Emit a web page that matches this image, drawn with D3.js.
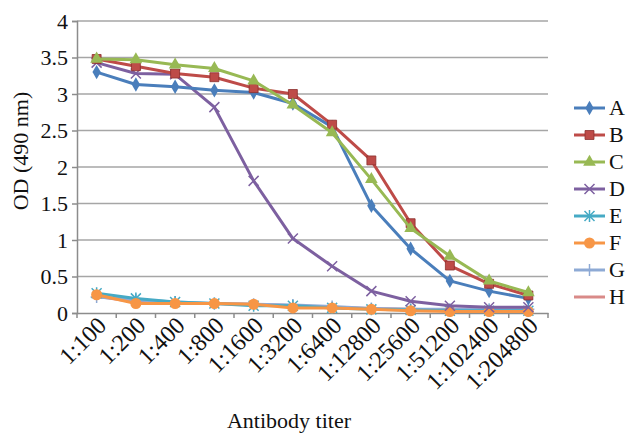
<!DOCTYPE html>
<html>
<head>
<meta charset="utf-8">
<script src="https://cdn.jsdelivr.net/npm/d3@7"></script>
<style>
  body { margin: 0; background: #fff; }
</style>
</head>
<body>
<div id="chart"></div>
<script>
var titers = ["1:100", "1:200", "1:400", "1:800", "1:1600", "1:3200", "1:6400",
    "1:12800", "1:25600", "1:51200", "1:102400", "1:204800"];

var seriesNames = ["A", "B", "C", "D", "E", "F", "G", "H"];

var valuesA = [3.30, 3.13, 3.10, 3.05, 3.02, 2.87, 2.55, 1.47, 0.88, 0.44, 0.30, 0.20];
var valuesB = [3.48, 3.38, 3.28, 3.23, 3.08, 3.00, 2.58, 2.09, 1.23, 0.65, 0.40, 0.24];
var valuesC = [3.48, 3.47, 3.40, 3.35, 3.18, 2.85, 2.47, 1.83, 1.16, 0.78, 0.44, 0.28];
var valuesD = [3.43, 3.28, 3.27, 2.82, 1.81, 1.02, 0.64, 0.30, 0.16, 0.10, 0.08, 0.08];
var valuesE = [0.27, 0.20, 0.15, 0.13, 0.10, 0.10, 0.07, 0.05, 0.04, 0.03, 0.03, 0.03];
var valuesF = [0.25, 0.13, 0.13, 0.13, 0.12, 0.07, 0.07, 0.05, 0.03, 0.02, 0.02, 0.02];
var valuesG = [0.22, 0.18, 0.15, 0.13, 0.12, 0.11, 0.09, 0.06, 0.05, 0.05, 0.05, 0.05];
var valuesH = [0.23, 0.15, 0.13, 0.13, 0.12, 0.10, 0.08, 0.06, 0.05, 0.04, 0.04, 0.04];

var yTicks = [0, 0.5, 1, 1.5, 2, 2.5, 3, 3.5, 4];

var allValues = [valuesA, valuesB, valuesC, valuesD, valuesE, valuesF, valuesG, valuesH];
var colors = ["#4a7ebb", "#be4b48", "#98b954", "#7d60a0", "#46aac5", "#f79646", "#8eaad5", "#d98a88"];
var markers = ["diamond", "square", "triangle", "x", "asterisk", "circle", "plus", "none"];

var serif = "'Liberation Serif', 'Times New Roman', serif";
var width = 626, height = 433;
var plot = { left: 77, right: 548, top: 21, bottom: 313 };

var svg = d3.select("#chart").append("svg")
    .attr("width", width)
    .attr("height", height);

var x = d3.scaleBand().domain(titers).range([plot.left, plot.right]);
var y = d3.scaleLinear().domain([0, 4]).range([plot.bottom, plot.top]);

// gridlines
svg.append("g")
    .selectAll("line")
    .data(yTicks.slice(1))
    .enter().append("line")
    .attr("x1", plot.left).attr("x2", plot.right)
    .attr("y1", function(d) { return y(d); })
    .attr("y2", function(d) { return y(d); })
    .attr("stroke", "#a6a6a6")
    .attr("stroke-width", 1.5);

// y axis
var yAxis = svg.append("g")
    .attr("transform", "translate(" + plot.left + ",0)")
    .attr("font-family", serif)
    .call(d3.axisLeft(y).tickValues(yTicks).tickSize(5).tickPadding(4).tickFormat(d3.format("")));
yAxis.attr("font-family", serif);
yAxis.select(".domain").attr("stroke", "#8c8c8c").attr("stroke-width", 1.5);
yAxis.selectAll(".tick line").attr("stroke", "#8c8c8c").attr("stroke-width", 1.5);
yAxis.selectAll("text")
    .style("font-size", "22px")
    .style("font-family", serif)
    .attr("fill", "#111");

// x axis
var xAxis = svg.append("g")
    .attr("transform", "translate(0," + plot.bottom + ")")
    .call(d3.axisBottom(x).tickSize(0).tickPadding(0));
xAxis.attr("font-family", serif);
xAxis.select(".domain").attr("stroke", "#8c8c8c").attr("stroke-width", 1.5);
xAxis.selectAll(".tick text")
    .style("font-size", "24px")
    .style("font-family", serif)
    .attr("fill", "#111")
    .attr("text-anchor", "end")
    .attr("dy", 0)
    .attr("transform", "translate(11,14) rotate(-45)");

// tick marks between categories
var boundaries = titers.map(function(t) { return x(t); }).concat([plot.right]);
svg.append("g")
    .selectAll("line")
    .data(boundaries)
    .enter().append("line")
    .attr("x1", function(d) { return d; }).attr("x2", function(d) { return d; })
    .attr("y1", plot.bottom).attr("y2", plot.bottom + 5)
    .attr("stroke", "#8c8c8c")
    .attr("stroke-width", 1.5);

var cx = function(i) { return x(titers[i]) + x.bandwidth() / 2; };

function drawMarker(g, type, color, px, py) {
    if (type === "diamond") {
        g.append("path").attr("d", d3.symbol(d3.symbolDiamond, 60)())
            .attr("transform", "translate(" + px + "," + py + ")").attr("fill", color);
    } else if (type === "square") {
        g.append("path").attr("d", d3.symbol(d3.symbolSquare, 80)())
            .attr("transform", "translate(" + px + "," + py + ")").attr("fill", color)
            .attr("stroke", "#8c2f2c").attr("stroke-width", 0.8);
    } else if (type === "triangle") {
        g.append("path").attr("d", d3.symbol(d3.symbolTriangle, 70)())
            .attr("transform", "translate(" + px + "," + py + ")").attr("fill", color);
    } else if (type === "circle") {
        g.append("circle").attr("cx", px).attr("cy", py).attr("r", 5.5).attr("fill", color);
    } else if (type === "x") {
        g.append("path").attr("d", "M-5,-5L5,5M-5,5L5,-5")
            .attr("transform", "translate(" + px + "," + py + ")")
            .attr("stroke", color).attr("stroke-width", 1.5).attr("fill", "none");
    } else if (type === "asterisk") {
        g.append("path").attr("d", "M-5,-5L5,5M-5,5L5,-5M0,-6L0,6")
            .attr("transform", "translate(" + px + "," + py + ")")
            .attr("stroke", color).attr("stroke-width", 1.5).attr("fill", "none");
    } else if (type === "plus") {
        g.append("path").attr("d", "M-6,0L6,0M0,-6L0,6")
            .attr("transform", "translate(" + px + "," + py + ")")
            .attr("stroke", color).attr("stroke-width", 1.5).attr("fill", "none");
    }
}

var line = d3.line()
    .x(function(d, i) { return cx(i); })
    .y(function(d) { return y(d); });

// draw low series first so the main curves sit on top
var order = [7, 6, 4, 5, 3, 0, 1, 2];
order.forEach(function(s) {
    var g = svg.append("g");
    g.append("path")
        .datum(allValues[s])
        .attr("d", line)
        .attr("fill", "none")
        .attr("stroke", colors[s])
        .attr("stroke-width", 3)
        .attr("stroke-linejoin", "round");
    allValues[s].forEach(function(v, i) {
        drawMarker(g, markers[s], colors[s], cx(i), y(v));
    });
});

// legend
var legend = svg.append("g");
seriesNames.forEach(function(name, i) {
    var ly = 108 + i * 27;
    var lg = legend.append("g");
    lg.append("line")
        .attr("x1", 574).attr("x2", 605)
        .attr("y1", ly).attr("y2", ly)
        .attr("stroke", colors[i]).attr("stroke-width", 3);
    drawMarker(lg, markers[i], colors[i], 589.5, ly);
    lg.append("text")
        .attr("x", 609).attr("y", ly + 7)
        .style("font-family", serif)
        .style("font-size", "22px")
        .attr("fill", "#111")
        .text(name);
});

// axis titles
svg.append("text")
    .attr("transform", "translate(28,151) rotate(-90)")
    .attr("text-anchor", "middle")
    .style("font-family", serif)
    .style("font-size", "22px")
    .attr("fill", "#111")
    .text("OD (490 nm)");

svg.append("text")
    .attr("x", 289).attr("y", 428)
    .attr("text-anchor", "middle")
    .style("font-family", serif)
    .style("font-size", "22px")
    .attr("fill", "#111")
    .text("Antibody titer");
</script>
</body>
</html>
